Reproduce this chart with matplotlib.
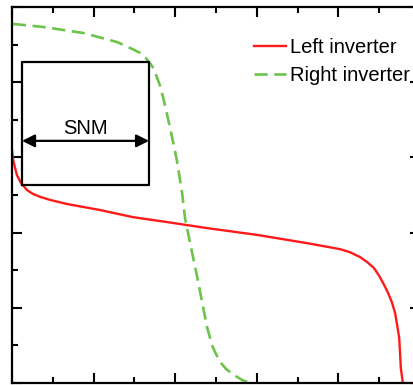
import numpy as np
import matplotlib.pyplot as plt
from matplotlib.ticker import MultipleLocator

plt.rcParams['font.family'] = ['Liberation Sans', 'DejaVu Sans']

# transfer curve of the left inverter
x_left = np.array([0.0, 0.002, 0.007, 0.012, 0.022, 0.037, 0.051, 0.069, 0.093, 0.135,
                   0.216, 0.297, 0.380, 0.478, 0.600, 0.723, 0.804, 0.828, 0.853, 0.870,
                   0.887, 0.900, 0.912, 0.922, 0.931, 0.939, 0.944, 0.949, 0.951, 0.953,
                   0.958])
y_left = np.array([0.620, 0.598, 0.574, 0.553, 0.532, 0.513, 0.503, 0.495, 0.487, 0.476,
                   0.460, 0.441, 0.428, 0.412, 0.394, 0.372, 0.356, 0.348, 0.335, 0.322,
                   0.306, 0.285, 0.261, 0.239, 0.215, 0.186, 0.154, 0.120, 0.082, 0.040,
                   0.0])

# transfer curve of the right inverter (mirrored)
x_right = np.array([0.002, 0.076, 0.174, 0.257, 0.284, 0.314, 0.328, 0.338, 0.348, 0.355,
                    0.363, 0.370, 0.387, 0.404, 0.417, 0.424, 0.436, 0.453, 0.466, 0.478,
                    0.490, 0.500, 0.510, 0.525, 0.544, 0.564, 0.583])
y_right = np.array([0.955, 0.947, 0.931, 0.907, 0.894, 0.878, 0.864, 0.851, 0.835, 0.814,
                    0.790, 0.761, 0.681, 0.593, 0.505, 0.439, 0.375, 0.287, 0.215, 0.149,
                    0.101, 0.077, 0.056, 0.037, 0.021, 0.008, 0.0])

# largest square between the two curves
snm_x = [0.0245, 0.336]
snm_y = [0.527, 0.854]
arrow_y = 0.644

fig = plt.figure(figsize=(4.14, 3.85), dpi=100)
ax = fig.add_axes([12 / 414, 2 / 385, 408 / 414, 376 / 385])

ax.plot(x_left, y_left, color='#ff1a1a', lw=1.7, label='Left inverter')
ax.plot(x_right, y_right, color='#6cc44a', lw=1.9, ls=(0, (5, 2.5)), label='Right inverter')

ax.plot([snm_x[0], snm_x[1], snm_x[1], snm_x[0], snm_x[0]],
        [snm_y[0], snm_y[0], snm_y[1], snm_y[1], snm_y[0]], color='black', lw=1.6)
ax.annotate('', xy=(snm_x[0], arrow_y), xytext=(snm_x[1], arrow_y),
            arrowprops=dict(arrowstyle='<|-|>', color='black', lw=1.6,
                            mutation_scale=19, shrinkA=0, shrinkB=0))
ax.text(sum(snm_x) / 2, arrow_y + 0.008, 'SNM', ha='center', va='bottom', fontsize=14.5)

ax.set_xlim(0, 1)
ax.set_ylim(0, 1)
ax.xaxis.set_major_locator(MultipleLocator(0.2))
ax.xaxis.set_minor_locator(MultipleLocator(0.1))
ax.yaxis.set_major_locator(MultipleLocator(0.2))
ax.yaxis.set_minor_locator(MultipleLocator(0.1))
ax.tick_params(which='both', direction='in', top=True, right=True,
               labelbottom=False, labelleft=False, width=1.5)
ax.tick_params(which='major', length=7)
ax.tick_params(which='minor', length=4)
for s in ax.spines.values():
    s.set_linewidth(1.6)

ax.legend(loc='upper left', bbox_to_anchor=(0.593, 0.918), frameon=False,
          fontsize=14.5, handlelength=1.6, handletextpad=0.2, labelspacing=0.45,
          borderpad=0, borderaxespad=0)

fig.savefig('out.png', dpi=100)
